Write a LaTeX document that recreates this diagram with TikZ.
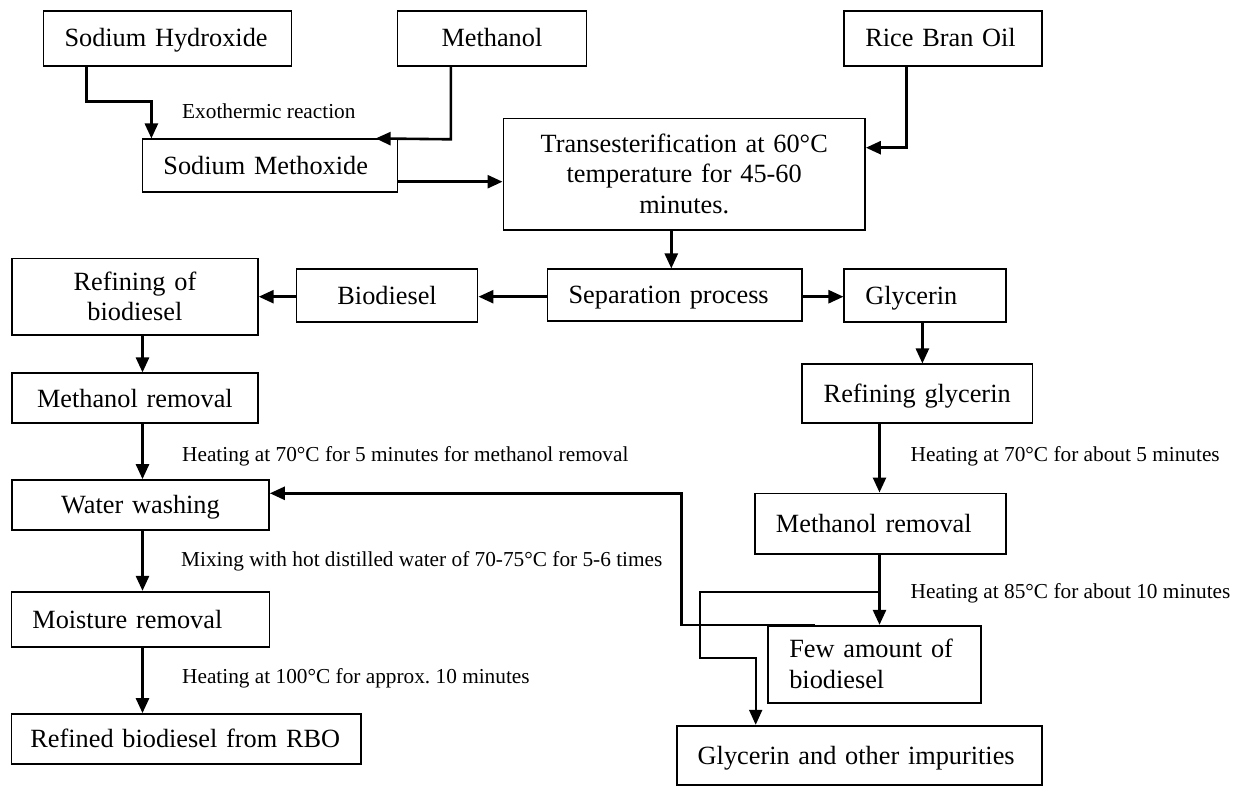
\documentclass[tikz,border=0pt]{standalone}
\usepackage{fontspec}
\setmainfont{Liberation Serif}
\usetikzlibrary{arrows.meta}
\frenchspacing
\newcommand\mainf{\fontsize{26.3}{30.5}\selectfont}
\newcommand\labf{\fontsize{21.3}{25}\selectfont}
\newcommand\bstrut{\rule[-6pt]{0pt}{29.4pt}}
\tikzset{
  bx/.style={draw, line width=1.7pt, inner ysep=0pt, font=\mainf,
    execute at begin node=\bstrut, execute at end node=\bstrut},
  bl/.style={bx, align=left, inner xsep=21pt},
  bc/.style={bx, align=center, inner xsep=10pt},
  arr/.style={line width=2.6pt, -{Triangle[length=15pt,width=13pt]}},
  lbl/.style={inner sep=0pt, anchor=west, font=\labf}
}
\begin{document}
\begin{tikzpicture}[x=1pt,y=-1pt]
\useasboundingbox (0,0) rectangle (1248,787);
\fill[white] (0,0) rectangle (1248,787);
% boxes
\node[bl, text width=206pt, minimum height=55pt] (sh) at (167.5,38.2) {Sodium Hydroxide};
\node[bc, text width=169pt, minimum height=55pt] (meth) at (491.9,38.2) {Methanol};
\node[bl, text width=155.4pt, minimum height=55pt] (rbo) at (943,38.2) {Rice Bran Oil};
\node[bl, text width=213pt, minimum height=52.4pt] (sm) at (269.9,165.5) {Sodium Methoxide};
\node[bc, text width=341.7pt, minimum height=111.7pt] (trans) at (684.2,174.2) {Transesterification at 60°C\\temperature for 45-60\\minutes.};
\node[bl, text width=212.6pt, minimum height=51.4pt] (sep) at (674.9,295) {Separation process};
\node[bc, text width=161pt, minimum height=52.4pt] (bio) at (387.1,295.5) {Biodiesel};
\node[bl, text width=119.4pt, minimum height=52.4pt] (gly) at (925,295.5) {Glycerin};
\node[bc, text width=225.9pt, minimum height=76.7pt] (rob) at (134.9,296.7) {Refining of\\biodiesel};
\node[bc, text width=225.9pt, minimum height=50pt] (mr1) at (134.9,398.3) {Methanol removal};
\node[bc, text width=210.5pt, minimum height=59pt] (rg) at (917.2,393.8) {Refining glycerin};
\node[bc, text width=237pt, minimum height=50pt] (ww) at (140.5,505) {Water washing};
\node[bl, text width=208.9pt, minimum height=60.7pt] (mr2) at (880.4,523.7) {Methanol removal};
\node[bl, text width=216pt, minimum height=55.6pt] (mor) at (140.4,619.5) {Moisture removal};
\node[bl, inner xsep=19pt, text width=311.6pt, minimum height=50pt] (ref) at (186.2,739) {Refined biodiesel from RBO};
\node[bl, text width=170.4pt, minimum height=77pt] (few) at (874.5,664.2) {Few amount of\\biodiesel};
\node[bl, text width=323pt, minimum height=59.3pt] (goi) at (859.2,755.3) {Glycerin and other impurities};
% labels
\node[lbl] (l1) at (182,111.7) {Exothermic reaction};
\node[lbl] (l2) at (182,456.7) {Heating at 70°C for 5 minutes for methanol removal};
\node[lbl] (l3) at (181,561.7) {Mixing with hot distilled water of 70-75°C for 5-6 times};
\node[lbl] (l4) at (182,678.3) {Heating at 100°C for approx. 10 minutes};
\node[lbl] (l5) at (910.5,456.7) {Heating at 70°C for about 5 minutes};
\node[lbl] (l6) at (910.5,593.3) {Heating at 85°C for about 10 minutes};
% bend coordinates
\coordinate (b1) at (86.2,101.7);
\coordinate (b2) at (151.4,101.7);
\coordinate (b3) at (450.8,139.3);
\coordinate (b4) at (375.6,0);
\coordinate (b5) at (0,181.7);
\coordinate (b6) at (906.4,147.7);
\coordinate (b7) at (671.3,0);
\coordinate (b8) at (0,296.7);
\coordinate (b9) at (922.4,0);
\coordinate (b10) at (142.5,0);
\coordinate (b11) at (879.5,0);
\coordinate (b13) at (879.5,592.3);
\coordinate (b14) at (700,592.3);
\coordinate (b15) at (700,658.3);
\coordinate (b16) at (755.7,658.3);
\coordinate (b17) at (815,0);
\coordinate (b18) at (681.7,0);
\coordinate (b19) at (681.7,493.3);
% connectors
\draw[arr] (sh.south -| b1) -- (b1) -- (b2) -- (sm.north -| b2);
\draw[arr] (meth.south -| b3) -- (b3) -- (sm.north -| b4);
\draw[arr] (sm.east |- b5) -- (trans.west |- b5);
\draw[arr] (rbo.south -| b6) -- (b6) -- (trans.east |- b6);
\draw[arr] (trans.south -| b7) -- (sep.north -| b7);
\draw[arr] (sep.west |- b8) -- (bio.east |- b8);
\draw[arr] (bio.west |- b8) -- (rob.east |- b8);
\draw[arr] (sep.east |- b8) -- (gly.west |- b8);
\draw[arr] (gly.south -| b9) -- (rg.north -| b9);
\draw[arr] (rob.south -| b10) -- (mr1.north -| b10);
\draw[arr] (mr1.south -| b10) -- (ww.north -| b10);
\draw[arr] (ww.south -| b10) -- (mor.north -| b10);
\draw[arr] (mor.south -| b10) -- (ref.north -| b10);
\draw[arr] (rg.south -| b11) -- (mr2.north -| b11);
\draw[arr] (mr2.south -| b11) -- (few.north -| b11);
\draw[arr, line width=2pt] (b13) -- (b14) -- (b15) -- (b16) -- (goi.north -| b16);
\draw[arr] (few.north -| b17) -- (few.north -| b18) -- (b19) -- (ww.east |- b19);
\end{tikzpicture}
\end{document}
